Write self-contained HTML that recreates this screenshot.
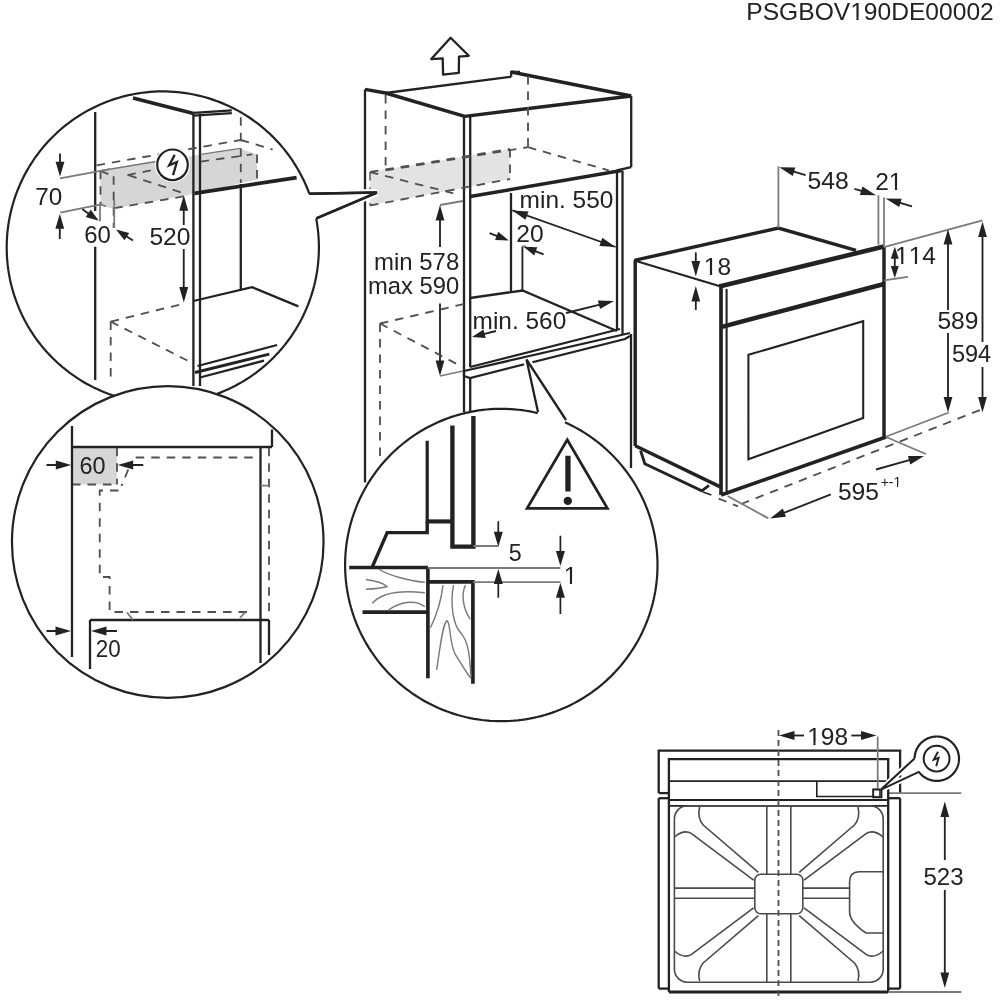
<!DOCTYPE html>
<html><head><meta charset="utf-8"><style>
html,body{margin:0;padding:0;background:#fff;width:1000px;height:1000px;overflow:hidden}
svg{display:block;will-change:transform}
text{font-family:"Liberation Sans",sans-serif;font-kerning:none;font-variant-ligatures:none}
</style></head><body>
<svg width="1000" height="1000" viewBox="0 0 1000 1000">
<text x="746.31" y="19.96" font-size="24.6" fill="#222" >PSGBOV190DE00002</text>
<rect x="851.17" y="17.32" width="5.23" height="3.34" fill="#fff"/>
<rect x="858.57" y="17.32" width="5.09" height="3.34" fill="#fff"/>
<path d="M450.6,37.8 L468.8,55.8 L459,56.6 L458.8,72.9 L443.1,74.7 L442.7,58.4 L431.3,59.1 Z" stroke="#222" stroke-width="2.3" fill="none" stroke-linejoin="round"/>
<path d="M370,172 L510,149 L510,179 L370,205.5 Z" stroke="#222" stroke-width="0.0" fill="#e3e3e3" stroke-linejoin="miter"/>
<line x1="365" y1="89.4" x2="365" y2="482.4" stroke="#222" stroke-width="2.3" stroke-linecap="butt"/>
<path d="M365,89.4 L385.6,93 L464.8,116.4" stroke="#222" stroke-width="3.45" fill="none" stroke-linejoin="miter"/>
<line x1="385.6" y1="93" x2="511.2" y2="76.8" stroke="#222" stroke-width="2.3" stroke-linecap="butt"/>
<path d="M511.2,76.8 L511.2,72 L520,72" stroke="#222" stroke-width="2.3" fill="none" stroke-linejoin="miter"/>
<line x1="511.2" y1="72" x2="631.2" y2="96" stroke="#222" stroke-width="3.45" stroke-linecap="butt"/>
<line x1="464.8" y1="116.4" x2="631.2" y2="96" stroke="#222" stroke-width="3.45" stroke-linecap="butt"/>
<line x1="631.2" y1="96" x2="631.2" y2="167.2" stroke="#222" stroke-width="2.3" stroke-linecap="butt"/>
<path d="M631.2,167.2 L616.8,170.4" stroke="#222" stroke-width="2.3" fill="none" stroke-linejoin="miter"/>
<line x1="464" y1="116.4" x2="464" y2="412" stroke="#222" stroke-width="2.3" stroke-linecap="butt"/>
<line x1="470.2" y1="116.4" x2="470.2" y2="367" stroke="#222" stroke-width="2.3" stroke-linecap="butt"/>
<line x1="470.2" y1="378" x2="470.2" y2="412" stroke="#222" stroke-width="2.3" stroke-linecap="butt"/>
<line x1="385.6" y1="95" x2="385.6" y2="170.4" stroke="#505050" stroke-width="1.84" stroke-linecap="butt" stroke-dasharray="8.5 7"/>
<line x1="528" y1="76" x2="528" y2="147.2" stroke="#505050" stroke-width="1.84" stroke-linecap="butt" stroke-dasharray="8.5 7"/>
<line x1="385.6" y1="170.4" x2="528" y2="147.2" stroke="#505050" stroke-width="1.84" stroke-linecap="butt" stroke-dasharray="8.5 7"/>
<line x1="528" y1="147.2" x2="608.8" y2="170.4" stroke="#505050" stroke-width="1.84" stroke-linecap="butt" stroke-dasharray="8.5 7"/>
<line x1="370" y1="172" x2="510" y2="149" stroke="#505050" stroke-width="1.84" stroke-linecap="butt" stroke-dasharray="8.5 7"/>
<line x1="510" y1="149" x2="510" y2="179" stroke="#505050" stroke-width="1.84" stroke-linecap="butt" stroke-dasharray="8.5 7"/>
<line x1="370" y1="205.5" x2="510" y2="179" stroke="#505050" stroke-width="1.84" stroke-linecap="butt" stroke-dasharray="8.5 7"/>
<line x1="370" y1="172" x2="456" y2="194" stroke="#505050" stroke-width="1.84" stroke-linecap="butt" stroke-dasharray="8.5 7"/>
<line x1="370" y1="172" x2="370" y2="205.5" stroke="#505050" stroke-width="1.38" stroke-linecap="butt" stroke-dasharray="8.5 7"/>
<line x1="470.2" y1="196.5" x2="621.5" y2="170.5" stroke="#222" stroke-width="3.45" stroke-linecap="butt"/>
<line x1="617" y1="170.5" x2="617" y2="329" stroke="#222" stroke-width="2.3" stroke-linecap="butt"/>
<line x1="622.5" y1="170.5" x2="622.5" y2="334" stroke="#222" stroke-width="2.3" stroke-linecap="butt"/>
<line x1="631" y1="334" x2="631" y2="468" stroke="#222" stroke-width="2.3" stroke-linecap="butt"/>
<line x1="511" y1="193" x2="511" y2="292" stroke="#222" stroke-width="2.3" stroke-linecap="butt"/>
<line x1="522.4" y1="246.4" x2="522.4" y2="290.5" stroke="#222" stroke-width="1.84" stroke-linecap="butt"/>
<line x1="522.4" y1="246.4" x2="526" y2="246.4" stroke="#7a7a7a" stroke-width="1.78" stroke-linecap="butt"/>
<path d="M470,298 L522.5,290.5 L617,331" stroke="#222" stroke-width="2.3" fill="none" stroke-linejoin="miter"/>
<line x1="470" y1="367" x2="620" y2="329" stroke="#222" stroke-width="2.3" stroke-linecap="butt"/>
<line x1="464" y1="371" x2="630" y2="333" stroke="#222" stroke-width="2.3" stroke-linecap="butt"/>
<path d="M464,371 L464,376 L470,378 L625,339 L630,336" stroke="#222" stroke-width="2.3" fill="none" stroke-linejoin="miter"/>
<line x1="512.4" y1="210.4" x2="615.5" y2="247" stroke="#222" stroke-width="1.84" stroke-linecap="butt"/>
<path d="M512.4,210.4 L528.5,211.5 L525.5,219.8 Z" fill="#222"/>
<path d="M615.5,247.0 L599.4,246.0 L602.3,237.7 Z" fill="#222"/>
<text x="519.58" y="207.66" font-size="24.5" fill="#222" textLength="93.78" lengthAdjust="spacingAndGlyphs">min. 550</text>
<line x1="489.6" y1="233.2" x2="498.50037904674053" y2="236.5376421425277" stroke="#222" stroke-width="1.84" stroke-linecap="butt"/>
<path d="M508.8,240.4 L495.1,240.0 L498.2,231.7 Z" fill="#222"/>
<line x1="543.6" y1="254.4" x2="533.8826193864718" y2="250.70739536685932" stroke="#222" stroke-width="1.84" stroke-linecap="butt"/>
<path d="M523.6,246.8 L537.3,247.3 L534.2,255.5 Z" fill="#222"/>
<text x="516.36" y="242.46" font-size="24.5" fill="#222" textLength="27.40" lengthAdjust="spacingAndGlyphs">20</text>
<text x="472.58" y="328.56" font-size="24.5" fill="#222" textLength="93.68" lengthAdjust="spacingAndGlyphs">min. 560</text>
<line x1="496" y1="331" x2="482.67156750159864" y2="334.3321081246003" stroke="#222" stroke-width="1.84" stroke-linecap="butt"/>
<path d="M472.0,337.0 L483.5,329.6 L485.7,338.1 Z" fill="#222"/>
<line x1="566" y1="313" x2="600.903076248038" y2="304.27423093799047" stroke="#222" stroke-width="1.84" stroke-linecap="butt"/>
<path d="M614.0,301.0 L600.0,309.0 L597.9,300.5 Z" fill="#222"/>
<line x1="440" y1="205" x2="463" y2="201" stroke="#7a7a7a" stroke-width="1.78" stroke-linecap="butt"/>
<line x1="440" y1="376" x2="463" y2="371" stroke="#7a7a7a" stroke-width="1.78" stroke-linecap="butt"/>
<line x1="440" y1="247" x2="440.0" y2="218.5" stroke="#222" stroke-width="1.84" stroke-linecap="butt"/>
<path d="M440.0,205.0 L444.4,220.5 L435.6,220.5 Z" fill="#222"/>
<line x1="440" y1="303.5" x2="440.0" y2="362.5" stroke="#222" stroke-width="1.84" stroke-linecap="butt"/>
<path d="M440.0,376.0 L435.6,360.5 L444.4,360.5 Z" fill="#222"/>
<text x="374.01" y="269.96" font-size="24.5" fill="#222" textLength="85.23" lengthAdjust="spacingAndGlyphs">min 578</text>
<text x="367.92" y="293.96" font-size="24.5" fill="#222" textLength="91.21" lengthAdjust="spacingAndGlyphs">max 590</text>
<line x1="380" y1="323.5" x2="464" y2="304" stroke="#505050" stroke-width="1.84" stroke-linecap="butt" stroke-dasharray="8.5 7"/>
<line x1="380" y1="323.5" x2="462.5" y2="367" stroke="#505050" stroke-width="1.84" stroke-linecap="butt" stroke-dasharray="8.5 7"/>
<line x1="380" y1="323.5" x2="380" y2="462" stroke="#505050" stroke-width="1.84" stroke-linecap="butt" stroke-dasharray="8.5 7"/>
<path d="M309.25,193.65 L376.9,192.55 L316.4,218.4" stroke="#fff" stroke-width="6.9" fill="none" stroke-linejoin="miter"/>
<path d="M309.25,193.65 L376.9,192.55 L316.4,218.4" stroke="#222" stroke-width="2.53" fill="none" stroke-linejoin="miter"/>
<path d="M634.4,260.4 L778.4,228 L856,250.4" stroke="#222" stroke-width="3.45" fill="none" stroke-linejoin="miter"/>
<line x1="634.4" y1="260.4" x2="719.2" y2="286" stroke="#222" stroke-width="2.07" stroke-linecap="butt"/>
<line x1="719.2" y1="286.5" x2="884" y2="246.5" stroke="#222" stroke-width="4.6" stroke-linecap="butt"/>
<line x1="884" y1="246" x2="884" y2="436.4" stroke="#222" stroke-width="3.45" stroke-linecap="butt"/>
<line x1="635.2" y1="260.4" x2="635.2" y2="446" stroke="#222" stroke-width="3.45" stroke-linecap="butt"/>
<line x1="721" y1="286" x2="721" y2="495" stroke="#222" stroke-width="3.68" stroke-linecap="butt"/>
<line x1="726.6" y1="289" x2="726.6" y2="495" stroke="#222" stroke-width="2.07" stroke-linecap="butt"/>
<line x1="720" y1="327.3" x2="884" y2="284" stroke="#222" stroke-width="4.48" stroke-linecap="butt"/>
<path d="M748.4,354.8 L863.2,321.2 L863.2,418 L748.4,459.2 Z" stroke="#222" stroke-width="2.07" fill="none" stroke-linejoin="miter"/>
<line x1="721" y1="495" x2="886" y2="437" stroke="#222" stroke-width="3.68" stroke-linecap="butt"/>
<line x1="635.2" y1="445.8" x2="719.8" y2="486.6" stroke="#222" stroke-width="3.45" stroke-linecap="butt"/>
<path d="M640.6,450.6 L644.8,463.8 L701.8,490.8 L709,485.4" stroke="#222" stroke-width="2.88" fill="none" stroke-linejoin="miter"/>
<line x1="778.4" y1="166.4" x2="778.4" y2="228" stroke="#7a7a7a" stroke-width="1.78" stroke-linecap="butt"/>
<line x1="878.4" y1="195.2" x2="878.4" y2="244.8" stroke="#7a7a7a" stroke-width="1.78" stroke-linecap="butt"/>
<line x1="884" y1="197.6" x2="884" y2="247" stroke="#7a7a7a" stroke-width="1.78" stroke-linecap="butt"/>
<line x1="805.6" y1="175.2" x2="792.119829459852" y2="171.11509983631876" stroke="#222" stroke-width="1.84" stroke-linecap="butt"/>
<path d="M779.2,167.2 L795.3,167.5 L792.8,175.9 Z" fill="#222"/>
<text x="807.41" y="189.26" font-size="24.5" fill="#222" textLength="41.27" lengthAdjust="spacingAndGlyphs">548</text>
<line x1="854.4" y1="188.8" x2="863.0562254784368" y2="191.36480754916644" stroke="#222" stroke-width="1.84" stroke-linecap="butt"/>
<path d="M876.0,195.2 L859.9,195.0 L862.4,186.6 Z" fill="#222"/>
<text x="875.17" y="189.50" font-size="24.5" fill="#222" >21</text>
<rect x="889.75" y="186.87" width="5.20" height="3.33" fill="#fff"/>
<rect x="897.12" y="186.87" width="5.07" height="3.33" fill="#fff"/>
<line x1="912" y1="206.4" x2="898.519829459852" y2="202.31509983631875" stroke="#222" stroke-width="1.84" stroke-linecap="butt"/>
<path d="M885.6,198.4 L901.7,198.7 L899.2,207.1 Z" fill="#222"/>
<line x1="695.8" y1="252.4" x2="695.8" y2="262.9" stroke="#222" stroke-width="1.84" stroke-linecap="butt"/>
<path d="M695.8,276.4 L691.4,260.9 L700.2,260.9 Z" fill="#222"/>
<line x1="695.8" y1="310" x2="695.8" y2="299.5" stroke="#222" stroke-width="1.84" stroke-linecap="butt"/>
<path d="M695.8,286.0 L700.2,301.5 L691.4,301.5 Z" fill="#222"/>
<text x="703.81" y="275.26" font-size="24.5" fill="#222" >18</text>
<rect x="704.77" y="272.63" width="5.20" height="3.33" fill="#fff"/>
<rect x="712.14" y="272.63" width="5.07" height="3.33" fill="#fff"/>
<line x1="884" y1="247.2" x2="982.5" y2="220.4" stroke="#7a7a7a" stroke-width="1.78" stroke-linecap="butt"/>
<line x1="884" y1="280.4" x2="908" y2="276.8" stroke="#7a7a7a" stroke-width="1.78" stroke-linecap="butt"/>
<line x1="894.8" y1="262" x2="894.8" y2="256.8" stroke="#222" stroke-width="1.84" stroke-linecap="butt"/>
<path d="M894.8,246.8 L898.8,258.8 L890.8,258.8 Z" fill="#222"/>
<line x1="894.8" y1="262" x2="894.8" y2="268.0" stroke="#222" stroke-width="1.84" stroke-linecap="butt"/>
<path d="M894.8,278.0 L890.8,266.0 L898.8,266.0 Z" fill="#222"/>
<text x="895.04" y="264.30" font-size="24.5" fill="#222" >114</text>
<rect x="896.00" y="261.67" width="5.20" height="3.33" fill="#fff"/>
<rect x="903.37" y="261.67" width="5.07" height="3.33" fill="#fff"/>
<rect x="909.62" y="261.67" width="5.20" height="3.33" fill="#fff"/>
<rect x="916.99" y="261.67" width="5.07" height="3.33" fill="#fff"/>
<line x1="948" y1="310" x2="948.0" y2="242.5" stroke="#222" stroke-width="1.84" stroke-linecap="butt"/>
<path d="M948.0,229.0 L952.4,244.5 L943.6,244.5 Z" fill="#222"/>
<line x1="948" y1="333" x2="948.0" y2="399.0" stroke="#222" stroke-width="1.84" stroke-linecap="butt"/>
<path d="M948.0,412.5 L943.6,397.0 L952.4,397.0 Z" fill="#222"/>
<text x="937.41" y="328.96" font-size="24.5" fill="#222" textLength="41.05" lengthAdjust="spacingAndGlyphs">589</text>
<line x1="982.5" y1="342" x2="982.5" y2="235.1" stroke="#222" stroke-width="1.84" stroke-linecap="butt"/>
<path d="M982.5,221.6 L986.9,237.1 L978.1,237.1 Z" fill="#222"/>
<line x1="982.5" y1="367" x2="982.5" y2="399.0" stroke="#222" stroke-width="1.84" stroke-linecap="butt"/>
<path d="M982.5,412.5 L978.1,397.0 L986.9,397.0 Z" fill="#222"/>
<text x="951.96" y="362.46" font-size="24.5" fill="#222" textLength="39.23" lengthAdjust="spacingAndGlyphs">594</text>
<line x1="886.4" y1="436.5" x2="948.9" y2="412.5" stroke="#7a7a7a" stroke-width="1.78" stroke-linecap="butt"/>
<line x1="703" y1="492" x2="711.4" y2="495" stroke="#222" stroke-width="1.84" stroke-linecap="butt"/>
<line x1="718.6" y1="498.6" x2="738" y2="506.4" stroke="#505050" stroke-width="1.84" stroke-linecap="butt" stroke-dasharray="8.5 7"/>
<line x1="741.2" y1="504" x2="982.5" y2="409" stroke="#505050" stroke-width="1.84" stroke-linecap="butt" stroke-dasharray="8.5 7"/>
<line x1="727.6" y1="496" x2="768.4" y2="518.4" stroke="#7a7a7a" stroke-width="1.78" stroke-linecap="butt"/>
<line x1="886" y1="437" x2="925.9" y2="454" stroke="#7a7a7a" stroke-width="1.78" stroke-linecap="butt"/>
<line x1="830.8" y1="494.4" x2="782.5570954879728" y2="513.4432517810633" stroke="#222" stroke-width="1.84" stroke-linecap="butt"/>
<path d="M770.0,518.4 L782.8,508.6 L786.0,516.8 Z" fill="#222"/>
<line x1="876" y1="469.5" x2="911.0042123079223" y2="459.6550652883969" stroke="#222" stroke-width="1.84" stroke-linecap="butt"/>
<path d="M924.0,456.0 L910.3,464.4 L907.9,456.0 Z" fill="#222"/>
<text x="837.91" y="500.16" font-size="24.5" fill="#222" textLength="41.12" lengthAdjust="spacingAndGlyphs">595</text>
<text x="880.66" y="486.70" font-size="14" fill="#222" >+-1</text>
<rect x="894.04" y="484.85" width="2.97" height="2.55" fill="#fff"/>
<rect x="898.26" y="484.85" width="2.90" height="2.55" fill="#fff"/>
<defs><clipPath id="c1"><circle cx="162.8" cy="247.5" r="156.1"/></clipPath><clipPath id="c2"><circle cx="167.75" cy="542" r="155.8"/></clipPath><clipPath id="c3"><circle cx="501.3" cy="565" r="156.2"/></clipPath></defs>
<circle cx="162.8" cy="247.5" r="156.1" stroke="#222" stroke-width="0" fill="#fff"/>
<g clip-path="url(#c1)">
<path d="M100.5,170.8 L156,161.5 L240.2,148.4 L257,154.4 L257,179.6 L193.6,194 L114,208.5 L100.5,206 Z" stroke="#222" stroke-width="0.0" fill="#d6d6d6" stroke-linejoin="miter"/>
<line x1="95.2" y1="112" x2="95.2" y2="210.9" stroke="#222" stroke-width="2.3" stroke-linecap="butt"/>
<line x1="95.2" y1="246.7" x2="95.2" y2="380" stroke="#222" stroke-width="2.3" stroke-linecap="butt"/>
<line x1="133" y1="98" x2="193.5" y2="113.5" stroke="#222" stroke-width="3.45" stroke-linecap="butt"/>
<line x1="193.5" y1="112.9" x2="231.8" y2="110.4" stroke="#222" stroke-width="2.3" stroke-linecap="butt"/>
<line x1="193.5" y1="115.6" x2="231.8" y2="113.2" stroke="#222" stroke-width="2.3" stroke-linecap="butt"/>
<line x1="193.4" y1="113.5" x2="193.4" y2="386" stroke="#222" stroke-width="2.3" stroke-linecap="butt"/>
<line x1="200" y1="113.5" x2="200" y2="386" stroke="#222" stroke-width="2.3" stroke-linecap="butt"/>
<line x1="240.8" y1="117.2" x2="240.8" y2="183" stroke="#505050" stroke-width="1.84" stroke-linecap="butt" stroke-dasharray="8.5 7"/>
<line x1="240.8" y1="184" x2="240.8" y2="289.6" stroke="#222" stroke-width="2.3" stroke-linecap="butt"/>
<line x1="194.4" y1="193.4" x2="296.6" y2="177.6" stroke="#222" stroke-width="3.68" stroke-linecap="butt"/>
<path d="M193.4,301 L252,287.2 L298.4,306.4" stroke="#222" stroke-width="2.3" fill="none" stroke-linejoin="miter"/>
<line x1="197.5" y1="366" x2="277.1" y2="345" stroke="#222" stroke-width="2.3" stroke-linecap="butt"/>
<line x1="195" y1="372.5" x2="269.3" y2="354.1" stroke="#222" stroke-width="2.88" stroke-linecap="butt"/>
<line x1="200" y1="377.5" x2="264.1" y2="360.6" stroke="#222" stroke-width="2.3" stroke-linecap="butt"/>
<line x1="110.7" y1="321.6" x2="184.8" y2="303.4" stroke="#505050" stroke-width="1.84" stroke-linecap="butt" stroke-dasharray="8.5 7"/>
<line x1="110.7" y1="321.6" x2="192.6" y2="363.2" stroke="#505050" stroke-width="1.84" stroke-linecap="butt" stroke-dasharray="8.5 7"/>
<line x1="110.7" y1="321.6" x2="110.7" y2="381.4" stroke="#505050" stroke-width="1.84" stroke-linecap="butt" stroke-dasharray="8.5 7"/>
<line x1="96.6" y1="165.3" x2="240.8" y2="140" stroke="#505050" stroke-width="1.84" stroke-linecap="butt" stroke-dasharray="8.5 7"/>
<line x1="240.8" y1="140" x2="272.6" y2="149.6" stroke="#505050" stroke-width="1.84" stroke-linecap="butt" stroke-dasharray="8.5 7"/>
<line x1="100.5" y1="170.8" x2="156" y2="161.5" stroke="#777" stroke-width="1.38" stroke-linecap="butt"/>
<line x1="100.5" y1="170.8" x2="100.5" y2="206" stroke="#505050" stroke-width="1.84" stroke-linecap="butt" stroke-dasharray="8.5 7"/>
<line x1="113.65" y1="176.3" x2="113.65" y2="228" stroke="#505050" stroke-width="1.84" stroke-linecap="butt" stroke-dasharray="8.5 7"/>
<line x1="100.5" y1="170.8" x2="113.65" y2="176.3" stroke="#505050" stroke-width="1.84" stroke-linecap="butt" stroke-dasharray="8.5 7"/>
<line x1="127.4" y1="175.2" x2="153.8" y2="169.7" stroke="#505050" stroke-width="1.84" stroke-linecap="butt" stroke-dasharray="8.5 7"/>
<line x1="200.6" y1="161.6" x2="252.2" y2="154.4" stroke="#505050" stroke-width="1.84" stroke-linecap="butt" stroke-dasharray="8.5 7"/>
<line x1="128.5" y1="175.2" x2="185.7" y2="193.9" stroke="#505050" stroke-width="1.84" stroke-linecap="butt" stroke-dasharray="8.5 7"/>
<line x1="114.2" y1="208.2" x2="185.7" y2="196.1" stroke="#505050" stroke-width="1.84" stroke-linecap="butt" stroke-dasharray="8.5 7"/>
<line x1="257" y1="154.4" x2="257" y2="178.4" stroke="#505050" stroke-width="1.84" stroke-linecap="butt" stroke-dasharray="8.5 7"/>
<line x1="200.6" y1="154.4" x2="240.2" y2="148.4" stroke="#777" stroke-width="1.38" stroke-linecap="butt"/>
<line x1="183.75" y1="225" x2="183.75" y2="208.7" stroke="#222" stroke-width="1.84" stroke-linecap="butt"/>
<path d="M183.8,195.2 L188.2,210.7 L179.3,210.7 Z" fill="#222"/>
<line x1="183.75" y1="249" x2="183.75" y2="289.0" stroke="#222" stroke-width="1.84" stroke-linecap="butt"/>
<path d="M183.8,302.5 L179.3,287.0 L188.2,287.0 Z" fill="#222"/>
<text x="149.41" y="245.46" font-size="24.5" fill="#222" textLength="41.15" lengthAdjust="spacingAndGlyphs">520</text>
<line x1="60" y1="153.6" x2="60.0" y2="163.8" stroke="#222" stroke-width="1.84" stroke-linecap="butt"/>
<path d="M60.0,176.8 L55.6,161.8 L64.4,161.8 Z" fill="#222"/>
<line x1="59.8" y1="239" x2="59.8" y2="226.65" stroke="#222" stroke-width="1.84" stroke-linecap="butt"/>
<path d="M59.8,213.7 L64.2,228.7 L55.4,228.7 Z" fill="#222"/>
<line x1="60" y1="178.4" x2="110" y2="169.2" stroke="#7a7a7a" stroke-width="1.78" stroke-linecap="butt"/>
<line x1="60.35" y1="212.55" x2="101" y2="204.3" stroke="#7a7a7a" stroke-width="1.78" stroke-linecap="butt"/>
<text x="35.16" y="205.26" font-size="24.5" fill="#222" textLength="26.99" lengthAdjust="spacingAndGlyphs">70</text>
<line x1="101" y1="204.3" x2="106" y2="206.5" stroke="#7a7a7a" stroke-width="1.78" stroke-linecap="butt"/>
<line x1="100" y1="204.3" x2="100" y2="221.35" stroke="#7a7a7a" stroke-width="1.78" stroke-linecap="butt"/>
<line x1="82.35" y1="209.25" x2="89.83844887429055" y2="214.49191421200342" stroke="#222" stroke-width="1.84" stroke-linecap="butt"/>
<path d="M98.8,220.8 L85.7,216.9 L90.7,209.7 Z" fill="#222"/>
<line x1="114.25" y1="200" x2="114.25" y2="228" stroke="#7a7a7a" stroke-width="1.78" stroke-linecap="butt"/>
<line x1="133" y1="240.6" x2="125.15120504344226" y2="235.55106757180496" stroke="#222" stroke-width="1.84" stroke-linecap="butt"/>
<path d="M115.9,229.6 L129.2,232.9 L124.5,240.3 Z" fill="#222"/>
<text x="84.28" y="243.26" font-size="24.5" fill="#222" textLength="26.65" lengthAdjust="spacingAndGlyphs">60</text>
<circle cx="172.5" cy="164.8" r="17.5" stroke="#222" stroke-width="0" fill="#fff"/>
<circle cx="172.5" cy="164.8" r="15.3" stroke="#222" stroke-width="2.2" fill="#fff"/>
<path d="M174.7,154.9 L169.2,165.3 L176.9,162 L173,175.2" stroke="#222" stroke-width="2.3" fill="none" />
</g>
<path d="M316.17,218.44 L316.86,222.36 L317.45,226.3 L317.94,230.25 L318.33,234.21 L318.62,238.17 L318.81,242.15 L318.89,246.13 L318.88,250.11 L318.76,254.08 L318.54,258.06 L318.22,262.02 L317.8,265.98 L317.28,269.93 L316.66,273.86 L315.94,277.77 L315.12,281.66 L314.2,285.53 L313.18,289.38 L312.06,293.2 L310.85,296.99 L309.54,300.75 L308.13,304.47 L306.63,308.16 L305.04,311.8 L303.36,315.41 L301.58,318.97 L299.71,322.48 L297.76,325.95 L295.71,329.36 L293.58,332.72 L291.37,336.03 L289.07,339.28 L286.69,342.47 L284.23,345.59 L281.69,348.66 L279.07,351.65 L276.38,354.58 L273.61,357.44 L270.77,360.23 L267.87,362.95 L264.89,365.59 L261.85,368.15 L258.74,370.64 L255.57,373.04 L252.34,375.37 L249.05,377.61 L245.71,379.76 L242.31,381.83 L238.86,383.82 L235.36,385.71 L231.81,387.52 L228.22,389.23 L224.59,390.85 L220.91,392.38 L217.2,393.81 L213.45,395.15 L209.67,396.4 L205.86,397.54 L202.03,398.59 L198.16,399.54 L194.27,400.39 L190.37,401.15 L186.44,401.8 L182.5,402.35 L178.55,402.8 L174.58,403.15 L170.61,403.4 L166.64,403.55 L162.66,403.6 L158.68,403.55 L154.7,403.39 L150.73,403.13 L146.77,402.77 L142.82,402.32 L138.88,401.76 L134.95,401.1 L131.05,400.34 L127.16,399.48 L123.3,398.52 L119.46,397.46 L115.65,396.31 L111.88,395.06 L108.13,393.71 L104.42,392.27 L100.75,390.74 L97.12,389.11 L93.53,387.39 L89.99,385.58 L86.49,383.68 L83.05,381.69 L79.65,379.61 L76.31,377.45 L73.03,375.2 L69.8,372.87 L66.64,370.46 L63.53,367.97 L60.5,365.4 L57.52,362.76 L54.62,360.04 L51.79,357.24 L49.03,354.38 L46.34,351.44 L43.73,348.44 L41.19,345.37 L38.74,342.24 L36.36,339.05 L34.07,335.79 L31.86,332.48 L29.74,329.12 L27.7,325.7 L25.75,322.23 L23.89,318.71 L22.12,315.15 L20.44,311.54 L18.86,307.89 L17.36,304.2 L15.97,300.48 L14.66,296.72 L13.46,292.93 L12.35,289.11 L11.34,285.26 L10.42,281.38 L9.61,277.49 L8.89,273.58 L8.28,269.64 L7.76,265.7 L7.35,261.74 L7.04,257.77 L6.83,253.8 L6.72,249.82 L6.71,245.84 L6.8,241.86 L7.0,237.89 L7.29,233.92 L7.69,229.96 L8.19,226.01 L8.78,222.08 L9.48,218.16 L10.28,214.26 L11.18,210.39 L12.17,206.54 L13.26,202.71 L14.45,198.91 L15.74,195.15 L17.12,191.42 L18.6,187.72 L20.17,184.06 L21.83,180.45 L23.59,176.88 L25.43,173.35 L27.37,169.88 L29.39,166.45 L31.5,163.07 L33.7,159.76 L35.97,156.49 L38.33,153.29 L40.78,150.15 L43.3,147.07 L45.9,144.06 L48.57,141.11 L51.32,138.23 L54.14,135.43 L57.03,132.69 L59.99,130.03 L63.02,127.45 L66.11,124.95 L69.27,122.52 L72.48,120.18 L75.76,117.92 L79.09,115.74 L82.48,113.65 L85.91,111.65 L89.4,109.73 L92.94,107.91 L96.52,106.17 L100.14,104.53 L103.81,102.98 L107.51,101.52 L111.25,100.16 L115.02,98.89 L118.82,97.72 L122.66,96.65 L126.51,95.68 L130.4,94.8 L134.3,94.02 L138.22,93.35 L142.16,92.77 L146.11,92.3 L150.07,91.92 L154.04,91.65 L158.01,91.47 L161.99,91.4 L165.97,91.43 L169.95,91.56 L173.92,91.8 L177.89,92.13 L181.84,92.57 L185.78,93.1 L189.71,93.74 L193.62,94.47 L197.51,95.31 L201.38,96.24 L205.22,97.28 L209.04,98.41 L212.82,99.63 L216.58,100.96 L220.3,102.37 L223.98,103.89 L227.62,105.49 L231.22,107.19 L234.77,108.98 L238.28,110.86 L241.73,112.83 L245.14,114.88 L248.5,117.03 L251.79,119.25 L255.03,121.56 L258.21,123.95 L261.33,126.43 L264.39,128.98 L267.37,131.61 L270.29,134.31 L273.14,137.09 L275.92,139.93 L278.63,142.85 L281.26,145.84 L283.81,148.89 L286.28,152.01 L288.68,155.19 L290.99,158.42 L293.22,161.72 L295.36,165.07 L297.42,168.48 L299.39,171.94 L301.27,175.44 L303.06,178.99 L304.77,182.59 L306.37,186.23 L307.89,189.91 L309.31,193.63" stroke="#222" stroke-width="2.2" fill="none" stroke-linejoin="round"/>
<path d="M309.25,193.65 L376.9,192.55 L316.4,218.4" stroke="#222" stroke-width="2.53" fill="none" stroke-linejoin="miter"/>
<circle cx="167.75" cy="542" r="155.8" stroke="#222" stroke-width="2.2" fill="#fff"/>
<g clip-path="url(#c2)">
<path d="M72,447.7 L117,447.7 L117,484.5 L72,484.5 Z" stroke="#222" stroke-width="0.0" fill="#d6d6d6" stroke-linejoin="miter"/>
<line x1="117" y1="447.7" x2="117" y2="484.5" stroke="#505050" stroke-width="1.84" stroke-linecap="butt" stroke-dasharray="8.5 7"/>
<line x1="72" y1="484.5" x2="117" y2="484.5" stroke="#505050" stroke-width="1.84" stroke-linecap="butt" stroke-dasharray="8.5 7"/>
<line x1="72" y1="426" x2="72" y2="657" stroke="#222" stroke-width="2.3" stroke-linecap="butt"/>
<line x1="72" y1="447" x2="272" y2="447" stroke="#222" stroke-width="2.53" stroke-linecap="butt"/>
<line x1="272" y1="429.5" x2="272" y2="447" stroke="#222" stroke-width="2.3" stroke-linecap="butt"/>
<text x="79.41" y="473.66" font-size="24.5" fill="#222" textLength="26.11" lengthAdjust="spacingAndGlyphs">60</text>
<line x1="46.5" y1="465" x2="57.75" y2="465.0" stroke="#222" stroke-width="1.84" stroke-linecap="butt"/>
<path d="M71.2,465.0 L55.8,469.4 L55.8,460.6 Z" fill="#222"/>
<line x1="143.25" y1="465" x2="131.25" y2="465.0" stroke="#222" stroke-width="1.84" stroke-linecap="butt"/>
<path d="M117.8,465.0 L133.2,460.6 L133.2,469.4 Z" fill="#222"/>
<line x1="135.75" y1="457.5" x2="259" y2="457.5" stroke="#505050" stroke-width="1.84" stroke-linecap="butt" stroke-dasharray="8.5 7"/>
<line x1="128.25" y1="469.5" x2="121.5" y2="486" stroke="#505050" stroke-width="1.84" stroke-linecap="butt" stroke-dasharray="8.5 7"/>
<path d="M118.5,490.5 L99.75,490.5 L99.75,577 L109.6,577 L109.6,612 L252,612" stroke="#505050" stroke-width="1.84" fill="none" stroke-linejoin="miter" stroke-dasharray="8.5 7"/>
<line x1="260.5" y1="447.7" x2="260.5" y2="663" stroke="#222" stroke-width="2.3" stroke-linecap="butt"/>
<line x1="269" y1="447.7" x2="269" y2="617" stroke="#505050" stroke-width="1.84" stroke-linecap="butt" stroke-dasharray="8.5 7"/>
<line x1="269" y1="620" x2="269" y2="655" stroke="#222" stroke-width="2.3" stroke-linecap="butt"/>
<line x1="260.5" y1="485.6" x2="269" y2="485.6" stroke="#7a7a7a" stroke-width="1.78" stroke-linecap="butt"/>
<line x1="90" y1="620" x2="269" y2="620" stroke="#222" stroke-width="2.3" stroke-linecap="butt"/>
<line x1="90" y1="620" x2="90" y2="669" stroke="#222" stroke-width="2.3" stroke-linecap="butt"/>
<line x1="127" y1="612.4" x2="133" y2="620" stroke="#7a7a7a" stroke-width="1.78" stroke-linecap="butt"/>
<line x1="245" y1="612.4" x2="240" y2="618" stroke="#7a7a7a" stroke-width="1.78" stroke-linecap="butt"/>
<line x1="46.5" y1="631" x2="57.5" y2="631.0" stroke="#222" stroke-width="1.84" stroke-linecap="butt"/>
<path d="M71.0,631.0 L55.5,635.4 L55.5,626.6 Z" fill="#222"/>
<line x1="117" y1="631" x2="104.5" y2="631.0" stroke="#222" stroke-width="1.84" stroke-linecap="butt"/>
<path d="M91.0,631.0 L106.5,626.6 L106.5,635.4 Z" fill="#222"/>
<text x="95.77" y="657.46" font-size="24.5" fill="#222" textLength="24.95" lengthAdjust="spacingAndGlyphs">20</text>
</g>
<path d="M538,412 L526.5,359.5 L566,420" stroke="#fff" stroke-width="6.9" fill="none" stroke-linejoin="miter"/>
<circle cx="501.3" cy="565" r="156.2" stroke="#222" stroke-width="0" fill="#fff"/>
<path d="M538,412 L526.5,359.5 L566,420" stroke="#222" stroke-width="2.3" fill="none" stroke-linejoin="miter"/>
<path d="M564.95,422.36 L568.55,424.02 L572.11,425.77 L575.63,427.62 L579.09,429.55 L582.51,431.57 L585.88,433.68 L589.18,435.87 L592.44,438.14 L595.63,440.5 L598.76,442.94 L601.83,445.45 L604.84,448.05 L607.78,450.72 L610.65,453.46 L613.45,456.27 L616.17,459.16 L618.83,462.11 L621.4,465.13 L623.9,468.21 L626.32,471.36 L628.66,474.57 L630.92,477.83 L633.09,481.15 L635.18,484.53 L637.18,487.96 L639.09,491.44 L640.92,494.96 L642.65,498.53 L644.29,502.14 L645.85,505.8 L647.3,509.49 L648.67,513.22 L649.93,516.98 L651.11,520.77 L652.18,524.59 L653.16,528.44 L654.04,532.31 L654.82,536.2 L655.5,540.11 L656.09,544.04 L656.57,547.98 L656.95,551.93 L657.23,555.89 L657.42,559.85 L657.5,563.82 L657.48,567.79 L657.35,571.76 L657.13,575.72 L656.81,579.68 L656.39,583.62 L655.86,587.56 L655.24,591.48 L654.52,595.38 L653.7,599.26 L652.78,603.12 L651.76,606.96 L650.64,610.77 L649.43,614.55 L648.13,618.3 L646.72,622.01 L645.23,625.69 L643.64,629.33 L641.96,632.92 L640.19,636.47 L638.33,639.98 L636.38,643.44 L634.34,646.84 L632.22,650.2 L630.01,653.5 L627.72,656.74 L625.35,659.92 L622.9,663.04 L620.37,666.1 L617.76,669.09 L615.08,672.02 L612.32,674.88 L609.49,677.66 L606.6,680.37 L603.63,683.01 L600.6,685.58 L597.5,688.06 L594.34,690.46 L591.13,692.79 L587.85,695.03 L584.52,697.19 L581.13,699.26 L577.7,701.24 L574.21,703.14 L570.68,704.95 L567.1,706.67 L563.48,708.29 L559.81,709.83 L556.12,711.27 L552.38,712.61 L548.61,713.86 L544.82,715.02 L540.99,716.07 L537.14,717.03 L533.26,717.89 L529.37,718.66 L525.46,719.32 L521.53,719.88 L517.59,720.35 L513.63,720.71 L509.67,720.98 L505.71,721.14 L501.74,721.2 L497.77,721.16 L493.8,721.02 L489.84,720.78 L485.88,720.44 L481.94,720.0 L478.01,719.45 L474.09,718.81 L470.19,718.07 L466.31,717.23 L462.46,716.29 L458.62,715.26 L454.82,714.12 L451.05,712.89 L447.3,711.57 L443.6,710.15 L439.93,708.64 L436.3,707.03 L432.71,705.33 L429.17,703.55 L425.67,701.67 L422.22,699.7 L418.82,697.65 L415.48,695.51 L412.19,693.29 L408.96,690.98 L405.79,688.6 L402.68,686.13 L399.63,683.58 L396.65,680.96 L393.74,678.27 L390.9,675.5 L388.12,672.66 L385.43,669.75 L382.8,666.77 L380.25,663.72 L377.78,660.62 L375.39,657.45 L373.09,654.22 L370.86,650.93 L368.72,647.59 L366.66,644.19 L364.7,640.75 L362.81,637.25 L361.02,633.71 L359.32,630.12 L357.71,626.49 L356.2,622.83 L354.78,619.12 L353.45,615.38 L352.22,611.61 L351.08,607.8 L350.04,603.97 L349.1,600.12 L348.26,596.24 L347.51,592.34 L346.87,588.42 L346.32,584.49 L345.88,580.55 L345.53,576.59 L345.29,572.63 L345.14,568.66 L345.1,564.69 L345.16,560.73 L345.32,556.76 L345.58,552.8 L345.94,548.85 L346.4,544.9 L346.96,540.97 L347.62,537.06 L348.38,533.16 L349.24,529.29 L350.19,525.44 L351.25,521.61 L352.4,517.81 L353.65,514.04 L354.99,510.31 L356.43,506.61 L357.96,502.94 L359.58,499.32 L361.29,495.74 L363.1,492.21 L364.99,488.72 L366.97,485.28 L369.04,481.89 L371.2,478.56 L373.44,475.28 L375.76,472.06 L378.16,468.9 L380.64,465.8 L383.2,462.77 L385.84,459.8 L388.55,456.9 L391.33,454.07 L394.18,451.31 L397.11,448.63 L400.1,446.02 L403.15,443.49 L406.27,441.03 L409.45,438.66 L412.69,436.36 L415.99,434.15 L419.34,432.03 L422.75,429.99 L426.2,428.04 L429.71,426.17 L433.26,424.4 L436.85,422.71 L440.49,421.12 L444.17,419.62 L447.88,418.22 L451.62,416.91 L455.4,415.7 L459.21,414.58 L463.05,413.56 L466.91,412.63 L470.79,411.81 L474.69,411.08 L478.61,410.46 L482.55,409.93 L486.49,409.5 L490.45,409.18 L494.41,408.95 L498.38,408.83 L502.35,408.8 L506.32,408.88 L510.28,409.06 L514.24,409.34 L518.19,409.72 L522.13,410.2 L526.06,410.77 L529.97,411.45 L533.86,412.23 L537.73,413.11" stroke="#222" stroke-width="2.2" fill="none" stroke-linejoin="round"/>
<g clip-path="url(#c3)">
<path d="M427.2,440.8 L427.2,521.4 L452,521.4" stroke="#222" stroke-width="3.22" fill="none" stroke-linejoin="miter"/>
<line x1="427.2" y1="521.4" x2="452" y2="521.4" stroke="#222" stroke-width="4.02" stroke-linecap="butt"/>
<path d="M427.2,521.4 L427.2,532.6 L387.2,532.6 L372.4,566.6" stroke="#222" stroke-width="3.45" fill="none" stroke-linejoin="miter"/>
<path d="M452.4,425.6 L452.4,546.6 L473.4,546.6 L473.4,416" stroke="#222" stroke-width="4.37" fill="none" stroke-linejoin="miter"/>
<line x1="473.4" y1="546" x2="498.3" y2="546" stroke="#7a7a7a" stroke-width="1.78" stroke-linecap="butt"/>
<line x1="349.2" y1="567.5" x2="427.9" y2="567.5" stroke="#222" stroke-width="3.68" stroke-linecap="butt"/>
<line x1="427.9" y1="567.5" x2="427.9" y2="678.2" stroke="#222" stroke-width="3.68" stroke-linecap="butt"/>
<line x1="362.5" y1="612.1" x2="427.9" y2="612.1" stroke="#222" stroke-width="3.68" stroke-linecap="butt"/>
<path d="M427.9,581.8 L472.9,581.8 L472.9,683.8" stroke="#222" stroke-width="3.68" fill="none" stroke-linejoin="miter"/>
<line x1="427.9" y1="568" x2="560.4" y2="568" stroke="#7a7a7a" stroke-width="1.78" stroke-linecap="butt"/>
<line x1="472.9" y1="582.1" x2="560.4" y2="582.1" stroke="#7a7a7a" stroke-width="1.78" stroke-linecap="butt"/>
<line x1="498.3" y1="521.25" x2="498.3" y2="533.75" stroke="#222" stroke-width="1.72" stroke-linecap="butt"/>
<path d="M498.3,546.8 L493.8,531.8 L502.8,531.8 Z" fill="#222"/>
<line x1="498.3" y1="597.75" x2="498.3" y2="581.85" stroke="#222" stroke-width="1.72" stroke-linecap="butt"/>
<path d="M498.3,568.9 L502.8,583.9 L493.8,583.9 Z" fill="#222"/>
<line x1="560.4" y1="535.7" x2="560.4" y2="553.0" stroke="#222" stroke-width="1.72" stroke-linecap="butt"/>
<path d="M560.4,566.0 L555.9,551.0 L564.9,551.0 Z" fill="#222"/>
<line x1="560.4" y1="613.9" x2="560.4" y2="595.8" stroke="#222" stroke-width="1.72" stroke-linecap="butt"/>
<path d="M560.4,582.8 L564.9,597.8 L555.9,597.8 Z" fill="#222"/>
<text x="508.87" y="560.81" font-size="24.5" fill="#222" textLength="12.96" lengthAdjust="spacingAndGlyphs">5</text>
<text x="563.67" y="584.00" font-size="24.5" fill="#222" >1</text>
<rect x="564.63" y="581.37" width="5.20" height="3.33" fill="#fff"/>
<rect x="572.00" y="581.37" width="5.07" height="3.33" fill="#fff"/>
<path d="M567.25,439.8 L607.4,508.3 L527.1,508.3 Z" stroke="#222" stroke-width="2.76" fill="none" stroke-linejoin="miter"/>
<line x1="567.95" y1="455.8" x2="567.95" y2="491.5" stroke="#222" stroke-width="5.29" stroke-linecap="butt"/>
<circle cx="567.8" cy="500.9" r="4.2" stroke="#222" stroke-width="0" fill="#222"/>
<path d="M378.6,569 C387,574.6 408,581 424.8,582.3" stroke="#7a7a7a" stroke-width="1.44" fill="none" />
<path d="M366,579.5 Q381.4,581.6 387,586.5 Q380,588.6 366,589.3" stroke="#7a7a7a" stroke-width="1.44" fill="none" />
<path d="M372.3,603.3 C381.4,592.8 401,590 424.8,592.8" stroke="#7a7a7a" stroke-width="1.44" fill="none" />
<path d="M388.4,610.3 C398.2,602.6 415,598.4 424.8,606.8" stroke="#7a7a7a" stroke-width="1.44" fill="none" />
<path d="M443,585.1 C441.6,597 437.4,613.8 430.4,627.8" stroke="#7a7a7a" stroke-width="1.44" fill="none" />
<path d="M453.5,585.1 C450,604 452.8,625 461.2,633.4 C468,642 469.6,653 471,676.8" stroke="#7a7a7a" stroke-width="1.44" fill="none" />
<path d="M465.4,585.1 C461.2,594.2 462.6,608.2 470.3,619.4" stroke="#7a7a7a" stroke-width="1.44" fill="none" />
<path d="M436.7,669.8 C440.2,646 443,622 447.2,620.8 C451.4,625 448.6,646 457,657.2 C462.6,665.6 466.8,674 471,678.2" stroke="#7a7a7a" stroke-width="1.44" fill="none" />
</g>
<path d="M658.7,793.1 L658.7,750.6 L900.1,750.6 L900.1,793.1" stroke="#222" stroke-width="2.3" fill="none" stroke-linejoin="miter"/>
<line x1="658.7" y1="798.2" x2="658.7" y2="988.6" stroke="#222" stroke-width="2.3" stroke-linecap="butt"/>
<line x1="658.7" y1="988.6" x2="668.9" y2="988.6" stroke="#222" stroke-width="2.3" stroke-linecap="butt"/>
<line x1="900.1" y1="798.2" x2="900.1" y2="988.6" stroke="#222" stroke-width="2.3" stroke-linecap="butt"/>
<line x1="888.2" y1="988.6" x2="900.1" y2="988.6" stroke="#222" stroke-width="2.3" stroke-linecap="butt"/>
<line x1="658.7" y1="793.1" x2="668.9" y2="793.1" stroke="#222" stroke-width="2.3" stroke-linecap="butt"/>
<line x1="888.2" y1="793.1" x2="961.3" y2="793.1" stroke="#7a7a7a" stroke-width="1.78" stroke-linecap="butt"/>
<line x1="658.7" y1="798.2" x2="668.9" y2="798.2" stroke="#222" stroke-width="2.3" stroke-linecap="butt"/>
<line x1="888.2" y1="798.2" x2="900.1" y2="798.2" stroke="#222" stroke-width="2.3" stroke-linecap="butt"/>
<path d="M668.9,992 L668.9,759.1 L888.2,759.1 L888.2,992" stroke="#222" stroke-width="2.3" fill="none" stroke-linejoin="miter"/>
<line x1="668.9" y1="992" x2="888.2" y2="992" stroke="#222" stroke-width="2.88" stroke-linecap="butt"/>
<line x1="888.2" y1="992" x2="961.3" y2="992" stroke="#7a7a7a" stroke-width="1.78" stroke-linecap="butt"/>
<line x1="668.9" y1="781.2" x2="888.2" y2="781.2" stroke="#222" stroke-width="1.84" stroke-linecap="butt"/>
<line x1="668.9" y1="800" x2="888.2" y2="800" stroke="#222" stroke-width="1.84" stroke-linecap="butt"/>
<line x1="668.9" y1="805.8" x2="888.2" y2="805.8" stroke="#222" stroke-width="1.84" stroke-linecap="butt"/>
<path d="M816.8,781.2 L816.8,796.5 L874.6,796.5" stroke="#222" stroke-width="1.61" fill="none" stroke-linejoin="miter"/>
<path d="M873.3,789.3 L880,789.3 L880,797 L873.3,797 Z" stroke="#222" stroke-width="1.61" fill="none" stroke-linejoin="miter"/>
<rect x="674.4" y="805.8" width="208.8" height="176.4" rx="13" fill="none" stroke="#4a4a4a" stroke-width="1.6"/>
<line x1="766.8" y1="805.8" x2="766.8" y2="874.2" stroke="#4a4a4a" stroke-width="1.61" stroke-linecap="butt"/>
<line x1="790.8" y1="805.8" x2="790.8" y2="874.2" stroke="#4a4a4a" stroke-width="1.61" stroke-linecap="butt"/>
<line x1="766.8" y1="913.8" x2="766.8" y2="982.2" stroke="#4a4a4a" stroke-width="1.61" stroke-linecap="butt"/>
<line x1="790.8" y1="913.8" x2="790.8" y2="982.2" stroke="#4a4a4a" stroke-width="1.61" stroke-linecap="butt"/>
<rect x="754.8" y="874.2" width="48" height="39.6" rx="6" fill="none" stroke="#4a4a4a" stroke-width="1.6"/>
<line x1="674.4" y1="888.1" x2="754.8" y2="888.1" stroke="#4a4a4a" stroke-width="1.61" stroke-linecap="butt"/>
<line x1="674.4" y1="898.2" x2="754.8" y2="898.2" stroke="#4a4a4a" stroke-width="1.61" stroke-linecap="butt"/>
<line x1="802.8" y1="888.1" x2="849.6" y2="888.1" stroke="#4a4a4a" stroke-width="1.61" stroke-linecap="butt"/>
<line x1="802.8" y1="898.2" x2="849.6" y2="898.2" stroke="#4a4a4a" stroke-width="1.61" stroke-linecap="butt"/>
<path d="M883.2,871.8 L859,871.8 Q849.6,872 849.6,882 L849.6,912 Q849.6,922 866,933 L883.2,933" stroke="#4a4a4a" stroke-width="1.61" fill="none" />
<path d="M758.4,872.3 L703.2,825 Q697,818 699.6,807" stroke="#4a4a4a" stroke-width="1.61" fill="none" />
<path d="M753.6,880.2 L691.2,833.4 Q684,829 674.4,837" stroke="#4a4a4a" stroke-width="1.61" fill="none" />
<path d="M799.2,872.3 L854.4,825 Q860.6,818 858,807" stroke="#4a4a4a" stroke-width="1.61" fill="none" />
<path d="M804,880.2 L866.4,833.4 Q873.6,829 883.2,837" stroke="#4a4a4a" stroke-width="1.61" fill="none" />
<path d="M758.4,915.7 L703.2,963 Q697,970 699.6,981" stroke="#4a4a4a" stroke-width="1.61" fill="none" />
<path d="M753.6,907.8 L691.2,954.6 Q684,959 674.4,951" stroke="#4a4a4a" stroke-width="1.61" fill="none" />
<path d="M799.2,915.7 L854.4,963 Q860.6,970 858,981" stroke="#4a4a4a" stroke-width="1.61" fill="none" />
<path d="M804,907.8 L866.4,954.6 Q873.6,959 883.2,951" stroke="#4a4a4a" stroke-width="1.61" fill="none" />
<line x1="778.5" y1="730" x2="778.5" y2="1000" stroke="#505050" stroke-width="1.84" stroke-linecap="butt" stroke-dasharray="6 4"/>
<line x1="877.7" y1="736.5" x2="877.7" y2="790.4" stroke="#7a7a7a" stroke-width="1.78" stroke-linecap="butt"/>
<line x1="804" y1="735.5" x2="792.5" y2="735.5" stroke="#222" stroke-width="1.84" stroke-linecap="butt"/>
<path d="M779.0,735.5 L794.5,731.1 L794.5,739.9 Z" fill="#222"/>
<line x1="851.3" y1="735.5" x2="863.0" y2="735.5" stroke="#222" stroke-width="1.84" stroke-linecap="butt"/>
<path d="M876.5,735.5 L861.0,739.9 L861.0,731.1 Z" fill="#222"/>
<text x="807.19" y="745.06" font-size="24.5" fill="#222" >198</text>
<rect x="808.14" y="742.43" width="5.20" height="3.33" fill="#fff"/>
<rect x="815.51" y="742.43" width="5.07" height="3.33" fill="#fff"/>
<circle cx="936.8" cy="758.7" r="24.5" stroke="#222" stroke-width="0" fill="#fff"/>
<path d="M914.6,758.4 L881,789.6 L919.4,771.6" stroke="#fff" stroke-width="5.75" fill="none" stroke-linejoin="miter"/>
<path d="M914.6,758.4 L881,789.6 L919.4,771.6" stroke="#222" stroke-width="2.07" fill="none" stroke-linejoin="miter"/>
<path d="M914.6,758.4 L914.62,757.88 L914.64,757.36 L914.68,756.84 L914.73,756.32 L914.79,755.8 L914.86,755.29 L914.95,754.77 L915.05,754.26 L915.16,753.75 L915.28,753.25 L915.41,752.74 L915.56,752.24 L915.72,751.75 L915.89,751.25 L916.07,750.77 L916.26,750.28 L916.46,749.8 L916.68,749.33 L916.9,748.86 L917.14,748.39 L917.38,747.93 L917.64,747.48 L917.91,747.04 L918.19,746.6 L918.48,746.16 L918.78,745.74 L919.09,745.32 L919.41,744.9 L919.74,744.5 L920.07,744.1 L920.42,743.72 L920.78,743.34 L921.14,742.96 L921.51,742.6 L921.9,742.25 L922.29,741.9 L922.68,741.57 L923.09,741.24 L923.5,740.92 L923.93,740.61 L924.35,740.32 L924.79,740.03 L925.23,739.75 L925.68,739.49 L926.13,739.23 L926.59,738.99 L927.06,738.75 L927.53,738.53 L928.0,738.32 L928.48,738.12 L928.97,737.93 L929.46,737.75 L929.95,737.58 L930.45,737.43 L930.95,737.28 L931.45,737.15 L931.96,737.03 L932.47,736.93 L932.98,736.83 L933.5,736.75 L934.01,736.68 L934.53,736.62 L935.05,736.57 L935.57,736.53 L936.09,736.51 L936.61,736.5 L937.13,736.5 L937.65,736.52 L938.17,736.54 L938.69,736.58 L939.21,736.63 L939.73,736.69 L940.24,736.77 L940.76,736.86 L941.27,736.95 L941.78,737.06 L942.28,737.19 L942.79,737.32 L943.29,737.47 L943.78,737.63 L944.27,737.8 L944.76,737.98 L945.25,738.17 L945.73,738.37 L946.2,738.59 L946.67,738.81 L947.13,739.05 L947.59,739.3 L948.04,739.56 L948.49,739.83 L948.93,740.11 L949.36,740.4 L949.79,740.7 L950.21,741.01 L950.62,741.33 L951.02,741.65 L951.42,741.99 L951.81,742.34 L952.19,742.7 L952.56,743.06 L952.92,743.44 L953.27,743.82 L953.62,744.21 L953.95,744.61 L954.28,745.02 L954.6,745.43 L954.9,745.85 L955.2,746.28 L955.49,746.71 L955.76,747.16 L956.03,747.6 L956.28,748.06 L956.53,748.52 L956.76,748.98 L956.98,749.45 L957.19,749.93 L957.39,750.41 L957.58,750.9 L957.76,751.39 L957.93,751.88 L958.08,752.38 L958.22,752.88 L958.35,753.38 L958.47,753.89 L958.58,754.4 L958.67,754.91 L958.76,755.43 L958.83,755.94 L958.89,756.46 L958.93,756.98 L958.97,757.5 L958.99,758.02 L959.0,758.54 L959.0,759.06 L958.98,759.58 L958.96,760.1 L958.92,760.62 L958.87,761.14 L958.8,761.66 L958.73,762.17 L958.64,762.69 L958.54,763.2 L958.43,763.71 L958.3,764.21 L958.17,764.72 L958.02,765.22 L957.86,765.71 L957.69,766.2 L957.51,766.69 L957.32,767.18 L957.11,767.65 L956.9,768.13 L956.67,768.6 L956.43,769.06 L956.19,769.52 L955.93,769.97 L955.66,770.42 L955.38,770.86 L955.09,771.29 L954.79,771.71 L954.47,772.13 L954.15,772.54 L953.83,772.95 L953.49,773.34 L953.14,773.73 L952.78,774.11 L952.42,774.48 L952.04,774.84 L951.66,775.2 L951.27,775.54 L950.87,775.87 L950.46,776.2 L950.05,776.52 L949.62,776.82 L949.2,777.12 L948.76,777.4 L948.32,777.68 L947.87,777.94 L947.42,778.2 L946.95,778.44 L946.49,778.67 L946.02,778.9 L945.54,779.11 L945.06,779.31 L944.57,779.49 L944.08,779.67 L943.59,779.84 L943.09,779.99 L942.59,780.13 L942.09,780.26 L941.58,780.38 L941.07,780.49 L940.56,780.58 L940.04,780.66 L939.53,780.73 L939.01,780.79 L938.49,780.84 L937.97,780.87 L937.45,780.89 L936.93,780.9 L936.41,780.9 L935.89,780.88 L935.37,780.85 L934.85,780.81 L934.33,780.76 L933.81,780.7 L933.3,780.62 L932.78,780.53 L932.27,780.43 L931.76,780.32 L931.26,780.2 L930.75,780.06 L930.25,779.91 L929.76,779.75 L929.27,779.58 L928.78,779.4 L928.3,779.21 L927.82,779.0 L927.34,778.78 L926.87,778.56 L926.41,778.32 L925.95,778.07 L925.5,777.81 L925.06,777.54 L924.62,777.26 L924.19,776.97 L923.76,776.67 L923.34,776.36 L922.93,776.04 L922.53,775.71 L922.13,775.37 L921.75,775.02 L921.37,774.66 L921.0,774.29 L920.64,773.92 L920.28,773.53 L919.94,773.14 L919.61,772.74 L919.28,772.34 L918.97,771.92" stroke="#222" stroke-width="2.2" fill="none" stroke-linejoin="round"/>
<circle cx="936.6" cy="758.7" r="12.9" stroke="#222" stroke-width="2" fill="#fff"/>
<path d="M938,751.8 L933.8,759.6 L938.6,757.8 L936.2,766.2" stroke="#222" stroke-width="1.95" fill="none" />
<path d="M873.2,789.6 L881.6,789.6 L881.6,797.4 L873.2,797.4 Z" stroke="#222" stroke-width="1.61" fill="none" stroke-linejoin="miter"/>
<line x1="944.8" y1="860" x2="944.8" y2="814.9" stroke="#222" stroke-width="1.84" stroke-linecap="butt"/>
<path d="M944.8,801.4 L949.2,816.9 L940.4,816.9 Z" fill="#222"/>
<line x1="944.8" y1="890" x2="944.8" y2="974.5" stroke="#222" stroke-width="1.84" stroke-linecap="butt"/>
<path d="M944.8,988.0 L940.4,972.5 L949.2,972.5 Z" fill="#222"/>
<text x="923.43" y="885.46" font-size="24.5" fill="#222" textLength="40.22" lengthAdjust="spacingAndGlyphs">523</text>
</svg></body></html>
